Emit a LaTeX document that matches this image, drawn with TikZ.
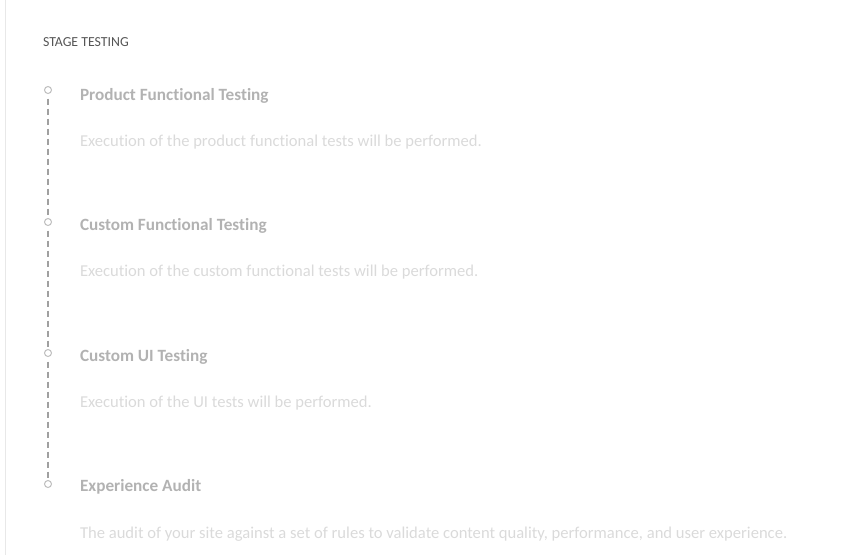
\documentclass[tikz,border=0pt]{standalone}
\usepackage{fontspec}
\setmainfont{Carlito}[Ligatures=NoCommon]
\usepackage{tikz}
\usetikzlibrary{positioning}

\definecolor{headgray}{RGB}{85,85,85}
\definecolor{titlegray}{RGB}{178,178,178}
\definecolor{descgray}{RGB}{218,218,218}
\definecolor{linegray}{RGB}{160,160,160}
\definecolor{dotgray}{RGB}{190,190,190}
\definecolor{bordergray}{RGB}{232,232,232}

\begin{document}
\begin{tikzpicture}[%
	x=1pt, y=-1pt,
	every node/.style = {inner sep=0pt, outer sep=0pt},
	heading/.style = {anchor=base west, font=\fontsize{13.8}{15}\selectfont, text=headgray},
	stagetitle/.style = {anchor=base west, font=\fontsize{17.2}{20}\selectfont\bfseries, text=titlegray},
	stagedesc/.style = {anchor=base west, font=\fontsize{16.6}{20}\selectfont, text=descgray},
	dot/.style = {circle, draw=dotgray, line width=1pt, minimum size=7pt, fill=white},
	timeline/.style = {draw=linegray, line width=1.2pt, dash pattern=on 6pt off 4pt, shorten <=5pt, shorten >=3pt}
	]
  \useasboundingbox (0,0) rectangle (841,555);
  \draw [bordergray, line width=1pt] (5,0) -- (5,555);
  \node [heading] (head) at (43,46) {STAGE TESTING};
  % stages
  \node [dot] (c1) at (48,90) {};
  \node [dot] (c2) at (48,222) {};
  \node [dot] (c3) at (48,353) {};
  \node [dot] (c4) at (48,484) {};
  \node [stagetitle] (t1) at (80,100) {Product Functional Testing};
  \node [stagedesc] (d1) at (80,146) {Execution of the product functional tests will be performed.};
  \node [stagetitle] (t2) at (80,230) {Custom Functional Testing};
  \node [stagedesc] (d2) at (80,276) {Execution of the custom functional tests will be performed.};
  \node [stagetitle] (t3) at (80,361) {Custom UI Testing};
  \node [stagedesc] (d3) at (80,407) {Execution of the UI tests will be performed.};
  \node [stagetitle] (t4) at (80,491) {Experience Audit};
  \node [stagedesc] (d4) at (80,538) {The audit of your site against a set of rules to validate content quality, performance, and user experience.};
  % dashed timeline
  \draw [timeline] (c1.south) -- (c2.north);
  \draw [timeline] (c2.south) -- (c3.north);
  \draw [timeline] (c3.south) -- (c4.north);
\end{tikzpicture}
\end{document}
